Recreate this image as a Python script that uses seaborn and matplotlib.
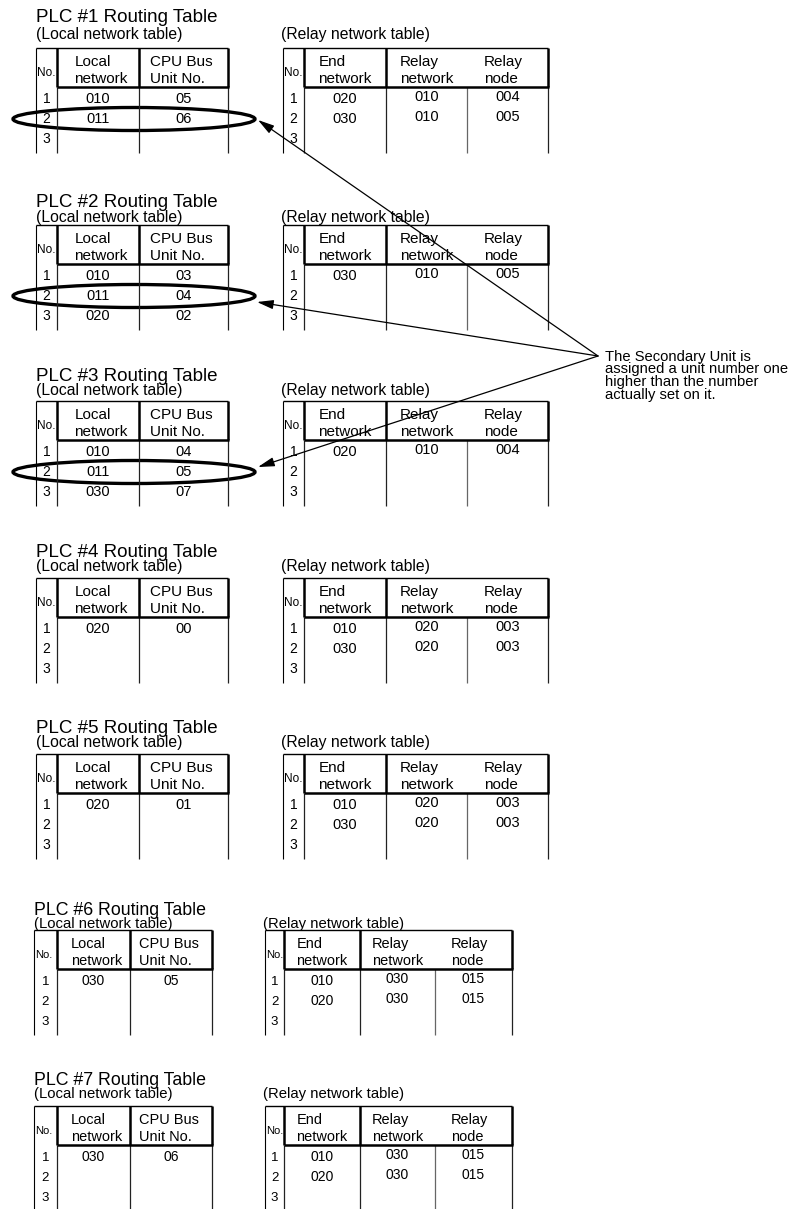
import numpy as np
import pandas as pd
import matplotlib
matplotlib.use("Agg")
import matplotlib.pyplot as plt
from matplotlib.patches import Ellipse
import seaborn as sns

# ---- table contents ----
PLC_TITLES = ["PLC #1 Routing Table", "PLC #2 Routing Table", "PLC #3 Routing Table",
              "PLC #4 Routing Table", "PLC #5 Routing Table", "PLC #6 Routing Table",
              "PLC #7 Routing Table"]
ROW_NO = ["1", "2", "3"]

LOCAL_NET = [["010", "011", ""], ["010", "011", "020"], ["010", "011", "030"],
             ["020", "", ""], ["020", "", ""], ["030", "", ""], ["030", "", ""]]
CPU_UNIT = [["05", "06", ""], ["03", "04", "02"], ["04", "05", "07"],
            ["00", "", ""], ["01", "", ""], ["05", "", ""], ["06", "", ""]]

END_NET = [["020", "030", ""], ["030", "", ""], ["020", "", ""],
           ["010", "030", ""], ["010", "030", ""], ["010", "020", ""], ["010", "020", ""]]
RELAY_NET = [["010", "010", ""], ["010", "", ""], ["010", "", ""],
             ["020", "020", ""], ["020", "020", ""], ["030", "030", ""], ["030", "030", ""]]
RELAY_NODE = [["004", "005", ""], ["005", "", ""], ["004", "", ""],
              ["003", "003", ""], ["003", "003", ""], ["015", "015", ""], ["015", "015", ""]]

LOCAL_HEAD = [("Local", "network"), ("CPU Bus", "Unit No.")]
RELAY_HEAD = [("End", "network"), ("Relay", "network"), ("Relay", "node")]

HIGHLIGHT = [True, True, True, False, False, False, False]   # row 2 circled
NOTE_LINES = ["The Secondary Unit is", "assigned a unit number one",
              "higher than the number", "actually set on it."]

# ---- layout, in pixels ----
TOPS = [48, 225, 401, 578, 754, 930, 1106]
TITLE_BASE = [22, 207, 381, 557, 733, 915, 1085]
SUB_BASE = [39, 222, 395, 571, 747, 928, 1098]
LOC_X = [[36, 57, 139, 228]] * 5 + [[34, 57, 130, 212]] * 2
REL_X = [[283, 304, 386, 467, 548]] * 5 + [[265, 284, 360, 435, 512]] * 2
SCALE = [1.0] * 5 + [0.95] * 2
TIPS = [(258, 120), (257, 302), (258, 467)]
APEX = (598, 356)

sns.set_theme(style="white")
MAIN = ["Liberation Sans", "DejaVu Sans"]
NARROW = ["Liberation Sans Narrow", "Liberation Sans", "DejaVu Sans"]
plt.rcParams["font.family"] = MAIN
plt.rcParams["text.color"] = "black"

fig = plt.figure(figsize=(8.08, 12.09), dpi=100)
ax = fig.add_axes([0, 0, 1, 1])
ax.set_xlim(0, 808)
ax.set_ylim(1209, 0)
ax.axis("off")
renderer = fig.canvas.get_renderer()

HEAD_H = 39
TAB_H = 105


def header_block(xc, top, l1, l2, fs):
    # two left-aligned lines, block centred on the column
    t1 = ax.text(xc, top + 18, l1, fontsize=fs, ha="center", va="baseline")
    t2 = ax.text(xc, top + 35, l2, fontsize=fs, ha="center", va="baseline")
    inv = ax.transData.inverted()
    x0 = min(inv.transform(t.get_window_extent(renderer))[0][0] for t in (t1, t2))
    for t in (t1, t2):
        t.set_x(x0)
        t.set_ha("left")


def draw_table(xs, top, frame, heads, shifts, raise_cols, open_seps, s):
    bottom = top + TAB_H
    ax.hlines(top, xs[0], xs[-1], color="black", lw=1.0)
    ax.vlines(xs[0], top, bottom, color="black", lw=0.8)
    for k, x in enumerate(xs[1:], start=1):
        if k not in open_seps:
            ax.vlines(x, top, top + HEAD_H, color="black", lw=1.8)
            ax.vlines(x, top + HEAD_H, bottom, color="#222222", lw=0.9)
        else:
            ax.vlines(x, top + HEAD_H, bottom, color="#666666", lw=0.9)
    ax.hlines(top + HEAD_H, xs[1], xs[-1] + 1, color="black", lw=1.8)

    ax.text(xs[0] + 1, top + 28, "No.", fontsize=8.5 * s, family=NARROW, va="baseline")
    for j, (l1, l2) in enumerate(heads):
        header_block((xs[j + 1] + xs[j + 2]) / 2 + shifts[j], top, l1, l2, 11 * s)

    for r, row in frame.iterrows():
        y = top + 55 + 20 * r
        ax.text((xs[0] + xs[1]) / 2, y, ROW_NO[r], fontsize=10 * s, family=NARROW,
                ha="center", va="baseline")
        for j, col in enumerate(frame.columns):
            dy = -2 if j in raise_cols else 0
            ax.text((xs[j + 1] + xs[j + 2]) / 2, y + dy, row[col], fontsize=10.5 * s,
                    family=NARROW, ha="center", va="baseline")


for i, title in enumerate(PLC_TITLES):
    top = TOPS[i]
    s = SCALE[i]
    lx, rx = LOC_X[i], REL_X[i]
    ax.text(lx[0], TITLE_BASE[i], title, fontsize=13.5 * s, va="baseline")
    ax.text(lx[0], SUB_BASE[i], "(Local network table)", fontsize=11.3 * s, va="baseline")
    ax.text(rx[0] - 2, SUB_BASE[i], "(Relay network table)", fontsize=11.3 * s, va="baseline")

    local_df = pd.DataFrame({"net": LOCAL_NET[i], "unit": CPU_UNIT[i]})
    relay_df = pd.DataFrame({"end": END_NET[i], "rnet": RELAY_NET[i], "rnode": RELAY_NODE[i]})
    draw_table(lx, top, local_df, LOCAL_HEAD, [3, -2], [], [], s)
    draw_table(rx, top, relay_df, RELAY_HEAD, [0, 0, -4], [1, 2], [3], s)

    if HIGHLIGHT[i]:
        ax.add_patch(Ellipse((134, top + 71), 242, 23, fill=False, ec="black", lw=2.4))

for tip in TIPS:
    ax.annotate("", xy=tip, xytext=APEX,
                arrowprops=dict(arrowstyle="-|>,head_length=0.9,head_width=0.25",
                                lw=0.9, color="black", shrinkA=0, shrinkB=0,
                                mutation_scale=11))

for k, line in enumerate(NOTE_LINES):
    ax.text(605, 361 + 12.5 * k, line, fontsize=10.6, va="baseline")

fig.savefig("out.png", dpi=100)
